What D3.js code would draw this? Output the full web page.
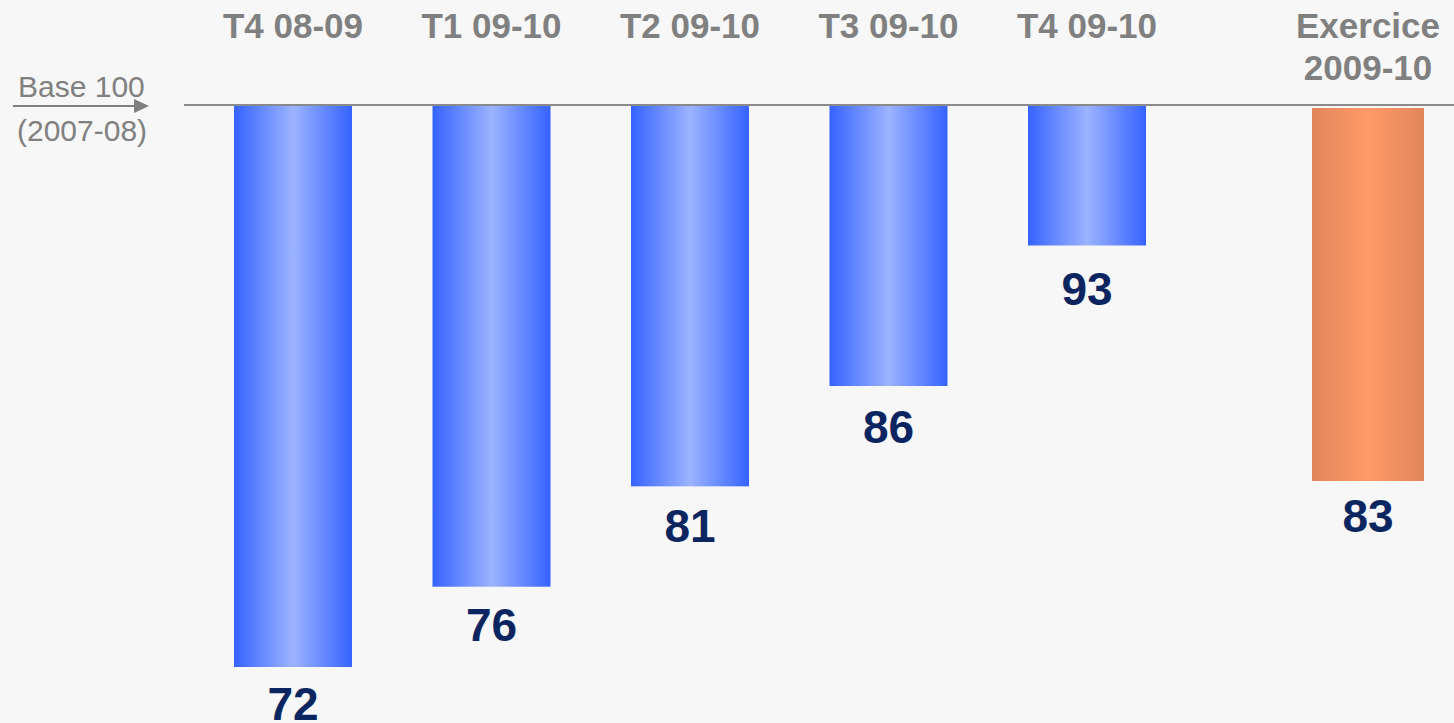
<!DOCTYPE html>
<html>
<head>
<meta charset="utf-8">
<script src="https://cdn.jsdelivr.net/npm/d3@7"></script>
<style>
  html, body { margin: 0; padding: 0; background: #f7f7f7; }
  svg { display: block; }
</style>
</head>
<body>
<svg id="chart" width="1454" height="723"></svg>
<script>
// Quarterly index (base 100 = fiscal year 2007-08)
const quarters = ["T4 08-09", "T1 09-10", "T2 09-10", "T3 09-10", "T4 09-10"];
const quarterValues = [72, 76, 81, 86, 93];

// Full fiscal year
const annualLabel = ["Exercice", "2009-10"];
const annualValue = 83;

const baseValue = 100;
const baseLabel = ["Base 100", "(2007-08)"];

const W = 1454, H = 723;
const svg = d3.select("#chart");

svg.append("rect").attr("width", W).attr("height", H).attr("fill", "#f7f7f7");

const defs = svg.append("defs");
function hGradient(id, edge, mid) {
  const g = defs.append("linearGradient").attr("id", id)
    .attr("x1", "0%").attr("x2", "100%").attr("y1", "0%").attr("y2", "0%");
  g.append("stop").attr("offset", "0%").attr("stop-color", edge);
  g.append("stop").attr("offset", "50%").attr("stop-color", mid);
  g.append("stop").attr("offset", "100%").attr("stop-color", edge);
}
hGradient("gradBlue", "#3563ff", "#9cb3ff");
hGradient("gradOrange", "#e0865a", "#ff9a66");

// Scales
const x = d3.scalePoint().domain(quarters).range([293, 1087]);
const barW = 118;
const y = d3.scaleLinear().domain([baseValue, 72]).range([105, 667]);
// baseline of the value labels under each quarterly bar
const yLabel = d3.scaleLinear().domain([93, 72]).range([305, 720]);

const xAnnual = 1368;
const annualW = 112;
const yAnnual = d3.scaleLinear().domain([baseValue, annualValue]).range([108, 481]);

const grey = "#808080";
const navy = "#0b2561";
const font = "Liberation Sans, Arial, sans-serif";

// Quarterly bars hanging from the base line
const qData = quarters.map((q, i) => ({ q, v: quarterValues[i] }));
svg.selectAll("rect.q").data(qData).join("rect")
  .attr("class", "q")
  .attr("x", d => x(d.q) - barW / 2)
  .attr("y", y(baseValue) - 1)
  .attr("width", barW)
  .attr("height", d => y(d.v) - y(baseValue) + 1)
  .attr("fill", "url(#gradBlue)");

// Annual bar
svg.append("rect")
  .attr("x", xAnnual - annualW / 2)
  .attr("y", yAnnual(baseValue))
  .attr("width", annualW)
  .attr("height", yAnnual(annualValue) - yAnnual(baseValue))
  .attr("fill", "url(#gradOrange)");

// Base line
svg.append("line")
  .attr("x1", 184).attr("x2", W)
  .attr("y1", y(baseValue)).attr("y2", y(baseValue))
  .attr("stroke", "#8a8a8a").attr("stroke-width", 2);

// Arrow pointing at the base line
svg.append("line")
  .attr("x1", 13).attr("x2", 136)
  .attr("y1", y(baseValue) + 1).attr("y2", y(baseValue) + 1)
  .attr("stroke", grey).attr("stroke-width", 2);
svg.append("path")
  .attr("d", d3.line()([[134, y(baseValue) - 6], [149, y(baseValue) + 1], [134, y(baseValue) + 8]]) + "Z")
  .attr("fill", grey);

svg.append("text").text(baseLabel[0])
  .attr("x", 18).attr("y", 97)
  .attr("font-family", font).attr("font-size", 30).attr("fill", grey);
svg.append("text").text(baseLabel[1])
  .attr("x", 17).attr("y", 141)
  .attr("font-family", font).attr("font-size", 30).attr("fill", grey);

// Category labels
svg.selectAll("text.cat").data(quarters).join("text")
  .attr("class", "cat")
  .attr("x", d => x(d)).attr("y", 38)
  .attr("text-anchor", "middle")
  .attr("font-family", font).attr("font-weight", "bold").attr("font-size", 35)
  .attr("fill", grey)
  .text(d => d);

svg.selectAll("text.acat").data(annualLabel).join("text")
  .attr("class", "acat")
  .attr("x", xAnnual).attr("y", (d, i) => 38 + i * 42)
  .attr("text-anchor", "middle")
  .attr("font-family", font).attr("font-weight", "bold").attr("font-size", 35)
  .attr("fill", grey)
  .text(d => d);

// Value labels
svg.selectAll("text.val").data(qData).join("text")
  .attr("class", "val")
  .attr("x", d => x(d.q)).attr("y", d => yLabel(d.v))
  .attr("text-anchor", "middle")
  .attr("font-family", font).attr("font-weight", "bold").attr("font-size", 46)
  .attr("fill", navy)
  .text(d => d.v);

svg.append("text")
  .attr("x", xAnnual).attr("y", yAnnual(annualValue) + 51)
  .attr("text-anchor", "middle")
  .attr("font-family", font).attr("font-weight", "bold").attr("font-size", 46)
  .attr("fill", navy)
  .text(annualValue);
</script>
</body>
</html>
